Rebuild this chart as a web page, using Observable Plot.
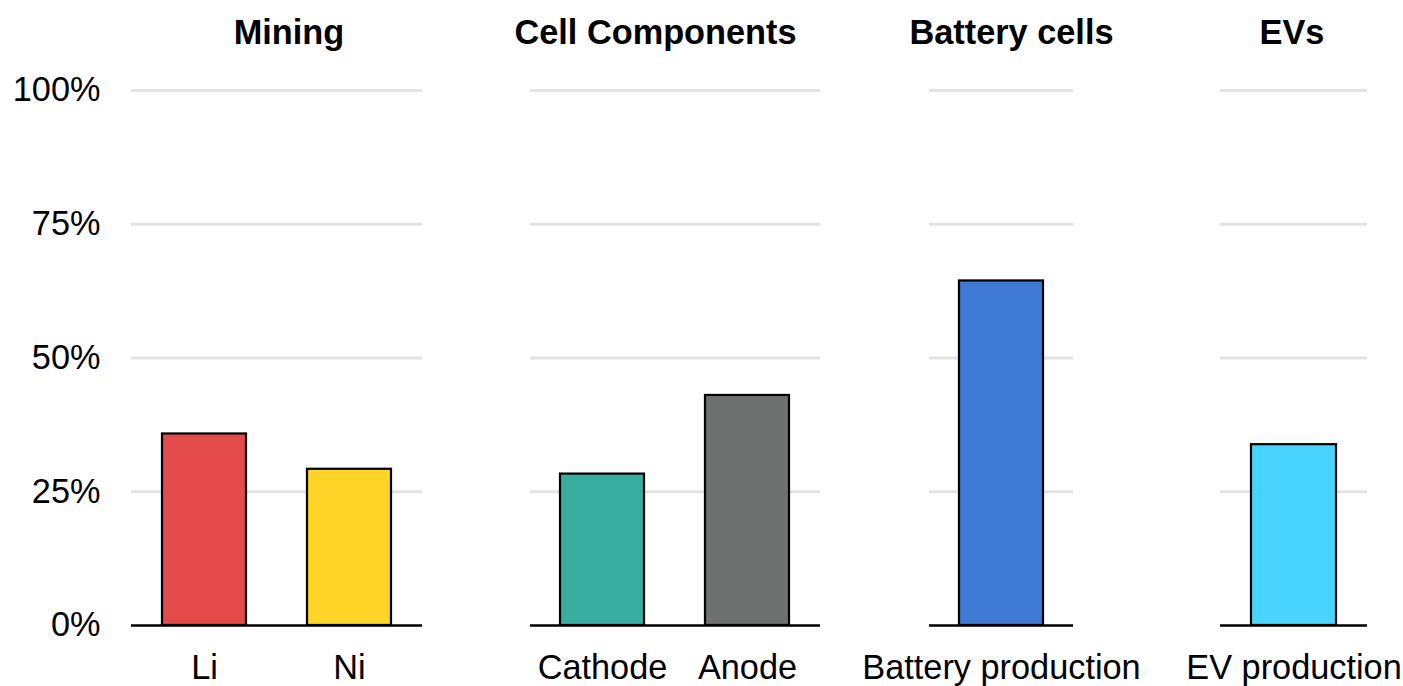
<!DOCTYPE html>
<html>
<head>
<meta charset="utf-8">
<script src="https://cdn.jsdelivr.net/npm/d3@7"></script>
<script src="https://cdn.jsdelivr.net/npm/@observablehq/plot@0.6"></script>
<style>
  html, body { margin: 0; padding: 0; background: #fff; }
  #chart { position: relative; width: 1403px; height: 686px; overflow: hidden; font-family: "Liberation Sans", Arial, sans-serif; }
  #chart svg { position: absolute; top: 0; }
</style>
</head>
<body>
<div id="chart"></div>
<script>
// ---- data ----
const groups = ["Mining", "Cell Components", "Battery cells", "EVs"];
const categories = [["Li", "Ni"], ["Cathode", "Anode"], ["Battery production"], ["EV production"]];
const values = [[0.358, 0.292], [0.283, 0.430], [0.644], [0.338]];
const barColors = [["#e24b49", "#fdd427"], ["#38aea1", "#6e706f"], ["#3e7ad4"], ["#48d4fe"]];
const yTicks = [0, 0.25, 0.5, 0.75, 1];

// ---- layout (pixels) ----
const facetLeft = [131, 530, 929, 1220];
const facetRight = [422, 820, 1073, 1367];
const titleShift = [12, -20, 10, -2];
const H = 686, MT = 90, MB = 61;
const FS = 34.3;
const FONT = "Liberation Sans, Arial, sans-serif";

const root = document.getElementById("chart");

groups.forEach((g, i) => {
  const data = categories[i].map((c, j) => ({cat: c, value: values[i][j]}));
  const ml = i === 0 ? facetLeft[0] : 20;
  const mr = 20;
  const width = facetRight[i] - facetLeft[i] + ml + mr;
  const marks = [
    Plot.gridY(yTicks.slice(1), {stroke: "#e3e3e3", strokeOpacity: 1, strokeWidth: 3}),
    Plot.barY(data, {x: "cat", y: "value", fill: "cat", stroke: "#000", strokeWidth: 2.2}),
    Plot.ruleY([0], {stroke: "#000", strokeWidth: 2.5}),
    Plot.axisX({tickSize: 0, tickPadding: 29, fontSize: FS, label: null}),
    Plot.text([g], {frameAnchor: "top", dy: -71, dx: titleShift[i], fontSize: FS, fontWeight: "bold", fill: "#000"})
  ];
  if (i === 0) {
    marks.push(Plot.axisY(yTicks, {tickSize: 0, tickPadding: 31, fontSize: FS, tickFormat: d3.format(".0%"), label: null}));
  }
  const svg = Plot.plot({
    width, height: H,
    marginLeft: ml, marginRight: mr, marginTop: MT, marginBottom: MB,
    style: {fontFamily: FONT, color: "#000", overflow: "visible", background: "transparent"},
    x: {domain: categories[i], paddingInner: 0.42, paddingOuter: 0.21, axis: null},
    y: {domain: [0, 1], axis: null},
    color: {domain: categories[i], range: barColors[i]},
    marks
  });
  svg.style.left = (facetLeft[i] - ml) + "px";
  root.appendChild(svg);
});
</script>
</body>
</html>
